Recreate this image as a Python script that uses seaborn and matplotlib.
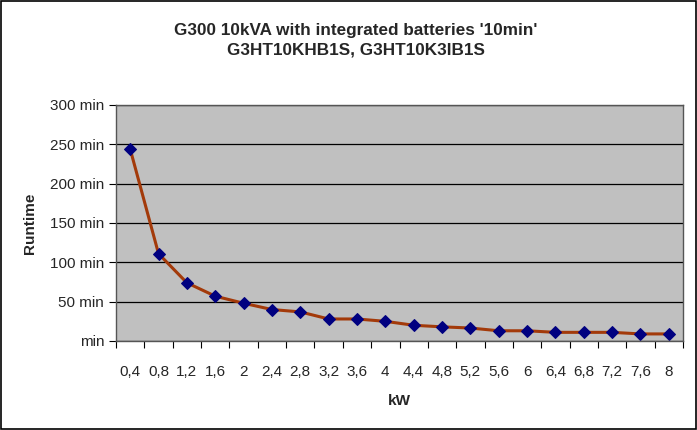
import numpy as np
import pandas as pd
import matplotlib
matplotlib.use("Agg")
import matplotlib.pyplot as plt
import seaborn as sns
from matplotlib.patches import Rectangle

kw_labels = ["0,4", "0,8", "1,2", "1,6", "2", "2,4", "2,8", "3,2", "3,6", "4",
             "4,4", "4,8", "5,2", "5,6", "6", "6,4", "6,8", "7,2", "7,6", "8"]
runtime = [244, 111, 74, 57, 48, 40, 37, 28, 28, 25,
           20, 18, 16.5, 13, 13, 11, 11, 11, 9, 9]
y_ticks = [0, 50, 100, 150, 200, 250, 300]
y_tick_labels = ["min", "50 min", "100 min", "150 min", "200 min", "250 min", "300 min"]

df = pd.DataFrame({"pos": np.arange(len(kw_labels)), "runtime": runtime})

sns.set_style("white")
plt.rcParams["font.family"] = ["Liberation Sans", "DejaVu Sans"]

fig = plt.figure(figsize=(6.97, 4.30), dpi=100)
ax = fig.add_axes([116 / 697, 89 / 430, 567 / 697, 236 / 430])
ax.set_facecolor("#C0C0C0")

sns.lineplot(data=df, x="pos", y="runtime", ax=ax, color="#A33A0A", linewidth=2.2,
             marker="D", markersize=6, markerfacecolor="#000080",
             markeredgecolor="#000080")

ax.set_xlim(-0.5, len(kw_labels) - 0.5)
ax.set_ylim(0, 300)
ax.set_yticks(y_ticks)
ax.set_yticklabels(y_tick_labels, fontsize=11)
ax.yaxis.grid(True, color="black", linewidth=0.9)
ax.set_axisbelow(True)

# category ticks between the points, labels in the middle
ax.set_xticks(np.arange(-0.5, len(kw_labels), 1.0))
ax.set_xticklabels([])
ax.set_xticks(np.arange(len(kw_labels)), minor=True)
ax.set_xticklabels(kw_labels, minor=True, fontsize=11)
ax.tick_params(axis="x", which="minor", length=0, pad=17)
ax.tick_params(axis="both", which="major", direction="out", length=5, width=0.8,
               color="black", left=True, bottom=True)

for s in ax.spines.values():
    s.set_color("#555555")
    s.set_linewidth(1.0)

ax.set_xlabel("kW", fontsize=11, fontweight="bold", labelpad=11)
ax.set_ylabel("Runtime", fontsize=11, fontweight="bold", labelpad=9)
fig.text(0.51, 0.93, "G300 10kVA with integrated batteries '10min'",
         ha="center", va="center", fontsize=12.3, fontweight="bold")
fig.text(0.51, 0.883, "G3HT10KHB1S, G3HT10K3IB1S",
         ha="center", va="center", fontsize=12.3, fontweight="bold")

fig.patches.append(Rectangle((0.001, 0.002), 0.997, 0.996, transform=fig.transFigure,
                             fill=False, edgecolor="black", linewidth=1.2))

fig.savefig("out.png", dpi=100)
